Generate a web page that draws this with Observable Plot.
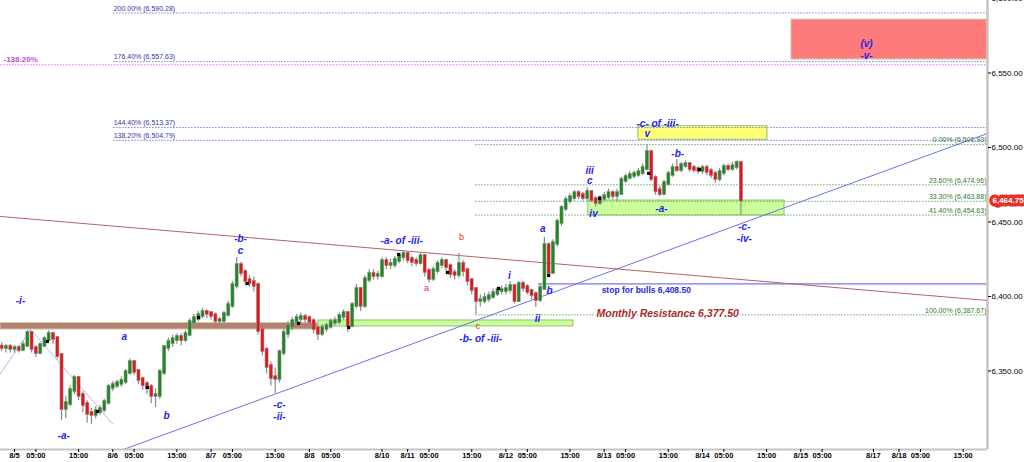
<!DOCTYPE html>
<html><head><meta charset="utf-8">
<script src="https://cdn.jsdelivr.net/npm/d3@7"></script>
<script src="https://cdn.jsdelivr.net/npm/@observablehq/plot@0.6"></script>
<style>body{margin:0;background:#fff}</style>
</head><body><div id="chart"></div>
<script>
// ---------- DATA ----------
const tStart = -3;            // trading-hour index of first bar (0 = 8/5 00:00)
const firstOpen = 6366.0;
const closes = [
 6365.8,6365.8,6365.1,6365.1,6364.4,6367.1,6375.2,6365.1,6362.4,6367.1,
 6371.1,6374.5,6371.8,6360.4,6324.8,6328.2,6336.9,6345.0,6333.6,6327.5,
 6321.5,6320.8,6322.8,6324.2,6328.9,6338.9,6340.3,6341.6,6343.0,6349.0,
 6355.7,6349.7,6344.3,6340.9,6338.9,6333.6,6333.6,6349.0,6365.8,6369.1,
 6371.1,6372.5,6371.1,6374.5,6382.6,6385.2,6387.2,6389.3,6388.6,6387.2,
 6383.9,6383.9,6387.9,6394.0,6407.4,6420.8,6416.1,6410.7,6409.4,6407.4,
 6377.2,6363.8,6353.0,6345.6,6345.0,6362.4,6375.2,6379.9,6383.2,6385.2,
 6385.9,6385.2,6383.2,6378.5,6375.2,6378.5,6379.9,6382.6,6383.2,6386.6,
 6388.6,6380.5,6394.0,6404.7,6394.0,6411.4,6414.8,6414.1,6414.1,6423.5,
 6421.5,6421.5,6424.2,6426.8,6428.2,6424.8,6423.5,6422.8,6426.8,6416.8,
 6412.1,6417.4,6421.5,6423.5,6420.1,6415.4,6414.8,6421.5,6417.4,6410.7,
 6404.7,6397.3,6397.3,6398.7,6400.0,6402.0,6404.0,6404.0,6404.7,6406.7,
 6397.3,6408.1,6406.0,6403.4,6401.3,6398.0,6405.4,6434.2,6416.1,6435.6,
 6449.7,6459.1,6464.4,6466.4,6469.1,6467.8,6466.4,6469.8,6465.1,6463.1,
 6465.8,6467.1,6469.1,6467.8,6469.1,6477.9,6479.9,6481.2,6481.9,6483.2,
 6485.9,6496.6,6479.2,6471.1,6469.1,6475.8,6481.9,6485.9,6485.2,6487.9,
 6488.6,6485.9,6485.2,6484.6,6485.9,6483.9,6481.9,6479.2,6483.2,6486.6,
 6485.9,6487.2,6489.3,6464.75];
const highs = [
 6369,6368,6368,6367,6367,6370,6377,6376,6367,6369,
 6373,6377,6376,6373,6361,6333,6340,6347,6346,6336,
 6330,6325,6326,6327,6331,6341,6343,6344,6346,6351,
 6358,6357,6351,6346,6343,6341,6338,6351,6367,6372,
 6374,6375,6375,6377,6385,6388,6390,6392,6391,6390,
 6389,6386,6390,6397,6410,6426.2,6423,6418,6414,6413,
 6409,6380,6366,6356,6352,6364,6378,6383,6386,6388,
 6389,6388,6387,6385,6380,6381,6382,6385,6386,6389,
 6391,6390,6396,6408,6406,6414,6418,6418,6417,6426,
 6426,6425,6427,6429,6430.5,6430,6427,6426,6429,6428,
 6419,6420,6424,6426,6425,6422,6418,6428.9,6424,6419,
 6412,6406,6401,6402,6403,6405,6406,6407,6408,6410,
 6408,6410,6410,6408,6405,6403,6408,6439.6,6436,6438,
 6452,6461,6467,6469,6471,6471,6470,6473,6471,6467,
 6468,6470,6472,6471,6472,6480,6482,6484,6484,6486,
 6489,6501.93,6498,6481,6474,6478,6484,6489,6492,6490,
 6491,6490,6488,6487,6488,6488,6486,6484,6486,6489,
 6489,6490,6491,6490];
const lows = [
 6363,6362,6362,6362,6362,6363,6366,6362,6359,6361,
 6366,6370,6368,6358,6316.8,6318,6326,6334,6330,6322,
 6315,6314,6318,6320,6322,6327,6336,6338,6339,6341,
 6347,6347,6341,6337,6334,6328,6325.5,6331,6347,6363,
 6366,6368,6367,6369,6373,6380,6383,6385,6385,6384,
 6381,6380,6382,6386,6392,6405,6413,6407,6406,6403,
 6374,6360,6348,6340,6334.9,6342,6360,6372,6377,6381,
 6382,6382,6380,6375,6370.5,6373,6376,6378,6380,6381,
 6384,6376,6379,6392,6390,6392,6409,6411,6411,6412,
 6418,6418,6419,6422,6424,6422,6420,6420,6421,6413,
 6409,6410,6415,6419,6417,6412,6411,6412,6413,6407,
 6401,6388,6393,6395,6396,6398,6400,6401,6401,6402,
 6395,6396,6403,6401,6398,6392.6,6396,6404,6414,6415,
 6433,6447,6457,6462,6464,6465,6464,6464,6463,6460,
 6461,6464,6465,6465,6464,6468,6476,6478,6479,6480,
 6481,6484,6477,6468,6467,6468,6474,6480,6483,6483,
 6486,6483,6483,6482,6482,6481,6479,6476,6477,6481,
 6484,6484,6485,6454.4];

// session marker dots
const markerT = [7.7,19.4,31.1,43.1,54.5,66.5,78.2,89.9,101.3,113.3,125,136.9,148.4,160.3];
const markerP = [6369.8,6322.8,6338.9,6385.9,6408.7,6381.9,6379.2,6428.2,6416.1,6405.4,6414.1,6465.8,6482.6,6485.2];

// x axis (trading-hour index) ticks and labels
const xTickT = [0,5,15,23,28,38,46,51,61,69,74,86,92,97,107,115,120,130,138,143,153,161,166,176,184,189,201,207,212,222];
const xTickLabels = ["8/5","05:00","15:00","8/6","05:00","15:00","8/7","05:00","15:00","8/8","05:00","8/10","8/11","05:00","15:00","8/12","05:00","15:00","8/13","05:00","15:00","8/14","05:00","15:00","8/15","05:00","8/17","8/18","05:00","15:00"];
const yTicks = [6350,6400,6450,6500,6550,6600];

// fibonacci levels
const fibUpperPct = ["200.00%","176.40%","144.40%","138.20%"];
const fibUpperVal = [6590.28,6557.63,6513.37,6504.79];
const fibUpperFrom = 23.2;
const fibLowerPct = ["0.00%","23.60%","33.30%","41.40%","100.00%"];
const fibLowerVal = [6501.93,6474.96,6463.88,6454.63,6387.67];
const fibLowerFrom = 107.9;
const extLabel = "-138.20%";
const extVal = 6555.5;

// zones
const zoneKind = ["target","v","iv","b","monthly"];
const zoneT1 = [181.8,146.0,134.3,71.1,-3.28];
const zoneT2 = [227.7,176.2,180.2,130.8,71.1];
const zoneLow = [6559.0,6505.2,6454.4,6379.9,6377.8];
const zoneHigh = [6585.9,6514.3,6464.4,6383.9,6382.2];

// stop level
const stopVal = 6408.5, stopFrom = 122.6;
const stopText = "stop for bulls 6,408.50";
const stopTextT = 137.4, stopTextP = 6404.0;
const monthlyText = "Monthly Resistance 6,377.50";
const monthlyTextT = 136.2, monthlyTextP = 6388.6;

// trend lines
const brownT = [-3.28,227.7], brownP = [6453.7,6397.3];
const blueT = [25.5,227.7], blueP = [6297.3,6509.4];
const channelT = [-3.28,3.74,22.9], channelP = [6348.3,6377.9,6314.8];

// wave labels
const waveText = ["-i-","a","-a-","b","-b-","c","-c-","-ii-","-a- of -iii-","-b- of -iii-","i","ii","a","b","iii","c","iv","-a-","v","-c- of -iii-","-b-","-c-","-iv-","(v)","-v-"];
const waveT = [1.4,25.7,11.5,35.6,52.9,52.9,62.0,62.0,90.6,109.1,115.8,122.4,123.6,125.2,134.6,134.6,135.5,151.4,148.1,150.5,155.2,170.8,170.8,199.4,199.4];
const waveP = [6397.3,6373.2,6306.7,6320.1,6438.9,6430.9,6327.5,6319.5,6437.6,6371.8,6414.1,6385.2,6445.6,6404.0,6484.6,6477.9,6455.7,6459.1,6509.4,6516.1,6496.0,6447.0,6438.9,6569.8,6561.7];
const subText = ["b","a","c"];
const subT = [104.6,96.4,108.4];
const subP = [6439.6,6405.4,6379.9];

// ---------- BUILD ----------
const xDomain = [-3.28, 227.7];
const yDomain = [6297.3, 6598.66];
const bars = closes.map((c,i)=>({t:tStart+i, o:i===0?firstOpen:closes[i-1], c, h:highs[i], l:lows[i]}));
const fmt = d3.format(",.2f");
const zoneStyle = {target:["#ff7b7b","#c3d9b5"], v:["#ffff77","#8cc46a"], iv:["#ccff99","#8cc46a"], b:["#ccff99","#8cc46a"], monthly:["#bb7c74","#b6dc9c"]};
const zones = zoneKind.map((k,i)=>({k,t1:zoneT1[i],t2:zoneT2[i],p1:zoneLow[i],p2:zoneHigh[i]}));
const fibU = fibUpperVal.map((v,i)=>({v, t1:fibUpperFrom, t2:xDomain[1], label:`${fibUpperPct[i]} (${fmt(v)})`}));
const fibL = fibLowerVal.map((v,i)=>({v, t1:fibLowerFrom, t2:xDomain[1], label:`${fibLowerPct[i]} (${fmt(v)})`}));
const line = (T,P)=>T.map((t,i)=>({t,p:P[i]}));
const waves = waveText.map((s,i)=>({s,t:waveT[i],p:waveP[i]}));
const subs = subText.map((s,i)=>({s,t:subT[i],p:subP[i]}));
const markers = markerT.map((t,i)=>({t,p:markerP[i]}));
const labelByT = new Map(xTickT.map((t,i)=>[t,xTickLabels[i]]));
const lastClose = closes[closes.length-1];
const BLUE = "#2222ee";

const chart = Plot.plot({
  width:1024, height:462,
  marginLeft:0, marginRight:37, marginTop:0, marginBottom:13,
  x:{domain:xDomain}, y:{domain:yDomain},
  style:{fontFamily:"'Liberation Sans', Arial, sans-serif", background:"#fff", overflow:"visible"},
  marks:[
    Plot.rect(zones,{x1:"t1",x2:"t2",y1:"p1",y2:"p2",fill:d=>zoneStyle[d.k][0],stroke:d=>zoneStyle[d.k][1],strokeWidth:1}),
    Plot.ruleY(fibU,{y:"v",x1:"t1",x2:"t2",stroke:"#7b7bea",strokeWidth:1,strokeDasharray:"1.5,1.5"}),
    Plot.ruleY([extVal],{y:d=>d,x1:xDomain[0],x2:xDomain[1],stroke:"#dd66ee",strokeWidth:1,strokeDasharray:"1.5,1.5"}),
    Plot.ruleY(fibL,{y:"v",x1:"t1",x2:"t2",stroke:"#66aa66",strokeWidth:1,strokeDasharray:"1.5,1.5"}),
    Plot.ruleY([stopVal],{y:d=>d,x1:stopFrom,x2:xDomain[1],stroke:"#7777f0",strokeWidth:1.2}),
    Plot.line(line(brownT,brownP),{x:"t",y:"p",stroke:"#b86060",strokeWidth:1}),
    Plot.line(line(blueT,blueP),{x:"t",y:"p",stroke:"#6f6fe8",strokeWidth:1}),
    Plot.line(line(channelT,channelP),{x:"t",y:"p",stroke:"#8888ee",strokeWidth:0.8,strokeDasharray:"1.5,1.5"}),
    // candles
    Plot.ruleX(bars,{x:"t",y1:"l",y2:"h",stroke:"#8a8a8a",strokeWidth:1.2}),
    Plot.ruleX(bars,{x:"t",y1:"o",y2:"c",stroke:"#9a9a9a",strokeWidth:3.8,strokeLinecap:"square"}),
    Plot.ruleX(bars,{x:"t",y1:"o",y2:"c",stroke:d=>d.c>=d.o?"#1d8a1d":"#e8141c",strokeWidth:2.6,strokeLinecap:"square"}),
    Plot.dot(markers,{x:"t",y:"p",symbol:"square",r:1.8,fill:"#000"}),
    // fib labels
    Plot.text(fibU,{x:"t1",y:"v",text:"label",textAnchor:"start",dy:-4.5,fontSize:7,fill:"#3434a8"}),
    Plot.text(fibL,{x:"t2",y:"v",text:"label",textAnchor:"end",dx:-1,dy:-4.5,fontSize:7,fill:"#2f7a2f"}),
    Plot.text([extLabel],{x:xDomain[0],y:extVal,text:d=>d,textAnchor:"start",dx:3,dy:-5,fontSize:8,fill:"#c04ad8",fontWeight:"bold"}),
    Plot.text([stopText],{x:stopTextT,y:stopTextP,text:d=>d,textAnchor:"start",fontSize:8.5,fontWeight:"bold",fill:"#2a2ad8"}),
    Plot.text([monthlyText],{x:monthlyTextT,y:monthlyTextP,text:d=>d,textAnchor:"start",fontSize:10.5,fontWeight:"bold",fontStyle:"italic",fill:"#a52a2a",stroke:"#fff",strokeWidth:3,paintOrder:"stroke"}),
    // wave labels
    Plot.text(waves,{x:"t",y:"p",text:"s",fontSize:10,fontWeight:"bold",fontStyle:"italic",fill:BLUE}),
    Plot.text(subs,{x:"t",y:"p",text:"s",fontSize:9,fill:"#e03030"}),
    // axes
    Plot.ruleX([xDomain[1]],{x:d=>d,stroke:"#c4c4c4",strokeWidth:2.5}),
    Plot.ruleY([yDomain[0]],{y:d=>d,stroke:"#c4c4c4",strokeWidth:2}),
    Plot.axisY({anchor:"right",ticks:yTicks,tickFormat:fmt,tickSize:3,tickPadding:1,fontSize:8,label:null}),
    Plot.axisX({ticks:xTickT,tickFormat:d=>labelByT.get(d),tickSize:3,tickPadding:0,fontSize:7.5,fontWeight:"bold",label:null}),
    // last price tag
    Plot.text([lastClose],{y:d=>d,frameAnchor:"right",text:d=>fmt(d),textAnchor:"start",dx:5,fontSize:8,fontWeight:"bold",fill:"#fff",stroke:"#e8302a",strokeWidth:7,strokeLinejoin:"round",paintOrder:"stroke"})
  ]
});
document.getElementById("chart").appendChild(chart);
</script>
</body></html>
